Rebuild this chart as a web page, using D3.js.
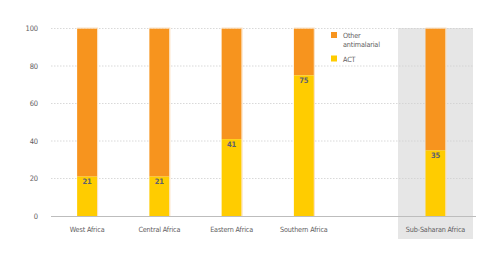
<!DOCTYPE html>
<html><head><meta charset="utf-8">
<script src="https://cdn.jsdelivr.net/npm/d3@7"></script>
<style>
body{margin:0;background:#fff;}
text{font-family:"Liberation Sans Narrow","DejaVu Sans Condensed","Roboto",sans-serif;letter-spacing:-0.15px;}
</style></head>
<body><svg id="c" width="500" height="263"></svg>
<script>
const regions = ["West Africa","Central Africa","Eastern Africa","Southern Africa"];
const aggregate = ["Sub-Saharan Africa"];
const actShare = [21, 21, 41, 75, 35];
const yTicks = [0, 20, 40, 60, 80, 100];
const seriesNames = ["Other antimalarial", "ACT"];

const colors = {other:"#F7941E", act:"#FFCC00"};
const svg = d3.select("#c");

const y = d3.scaleLinear().domain([0,100]).range([216, 28.5]);
const xR = d3.scaleBand().domain(regions).range([51, 340]);
const xA = d3.scaleBand().domain(aggregate).range([398, 473]);
const cats = regions.concat(aggregate);
const xc = c => regions.includes(c) ? xR(c) + xR.bandwidth()/2 : xA(c) + xA.bandwidth()/2;
const barW = 20;

// gray aggregate panel
svg.append("rect").attr("x", xA(aggregate[0])).attr("y", 28)
  .attr("width", xA.bandwidth()).attr("height", 211).attr("fill", "#e6e6e6");

// gridlines
svg.append("g").selectAll("line").data(yTicks.filter(d=>d>0)).join("line")
  .attr("x1", 51).attr("x2", 473).attr("y1", d=>y(d)).attr("y2", d=>y(d))
  .attr("stroke", "#cfcfcf").attr("stroke-width", 0.8).attr("stroke-dasharray", "1.5,1.5");

// y tick labels
svg.append("g").selectAll("text").data(yTicks).join("text")
  .attr("x", 38).attr("y", d=>y(d)).attr("dy", "0.35em").attr("text-anchor", "end")
  .attr("font-size", 7.5).attr("fill", "#5f6062").text(d=>d);

const data = cats.map((c,i)=>({cat:c, act:actShare[i]}));

// other segment
svg.append("g").selectAll("rect").data(data).join("rect")
  .attr("x", d=>xc(d.cat)-barW/2).attr("y", y(100))
  .attr("width", barW).attr("height", d=>y(d.act)-y(100))
  .attr("fill", colors.other);
// act segment
svg.append("g").selectAll("rect").data(data).join("rect")
  .attr("x", d=>xc(d.cat)-barW/2).attr("y", d=>y(d.act))
  .attr("width", barW).attr("height", d=>y(0)-y(d.act))
  .attr("fill", colors.act);
// bar edge highlight
svg.append("g").selectAll("line").data(data).join("line")
  .attr("x1", d=>xc(d.cat)+barW/2+0.5).attr("x2", d=>xc(d.cat)+barW/2+0.5)
  .attr("y1", y(100)).attr("y2", y(0))
  .attr("stroke", "#fbe0c0").attr("stroke-width", 1);
svg.append("g").selectAll("line").data(data).join("line")
  .attr("x1", d=>xc(d.cat)-barW/2).attr("x2", d=>xc(d.cat)+barW/2+1)
  .attr("y1", y(100)-0.5).attr("y2", y(100)-0.5)
  .attr("stroke", "#fbe0c0").attr("stroke-width", 1);

// value labels
svg.append("g").selectAll("text").data(data).join("text")
  .attr("x", d=>xc(d.cat)).attr("y", d=>y(d.act)+7.5).attr("text-anchor","middle")
  .attr("font-size", 7.5).attr("font-weight","bold").attr("fill", "#5e6170").text(d=>d.act);

// baseline
svg.append("line").attr("x1", 51).attr("x2", 476).attr("y1", y(0)+0.5).attr("y2", y(0)+0.5)
  .attr("stroke", "#bdbdbd").attr("stroke-width", 1);

// x labels
svg.append("g").selectAll("text").data(cats).join("text")
  .attr("x", d=>xc(d)).attr("y", 229).attr("dy","0.35em").attr("text-anchor","middle")
  .attr("font-size", 7.2).attr("fill", "#5f6062").text(d=>d);

// legend
const lg = svg.append("g").attr("transform","translate(331,32)");
lg.append("rect").attr("x",0).attr("y",0).attr("width",6).attr("height",6).attr("fill",colors.other);
lg.append("text").attr("x",12).attr("y",6).attr("font-size",7.2).attr("fill","#5f6062").text("Other");
lg.append("text").attr("x",12).attr("y",15).attr("font-size",7.2).attr("fill","#5f6062").text("antimalarial");
lg.append("rect").attr("x",0).attr("y",23.5).attr("width",6).attr("height",6).attr("fill",colors.act);
lg.append("text").attr("x",12).attr("y",29.5).attr("font-size",7.2).attr("fill","#5f6062").text(seriesNames[1]);
</script>
</body></html>
